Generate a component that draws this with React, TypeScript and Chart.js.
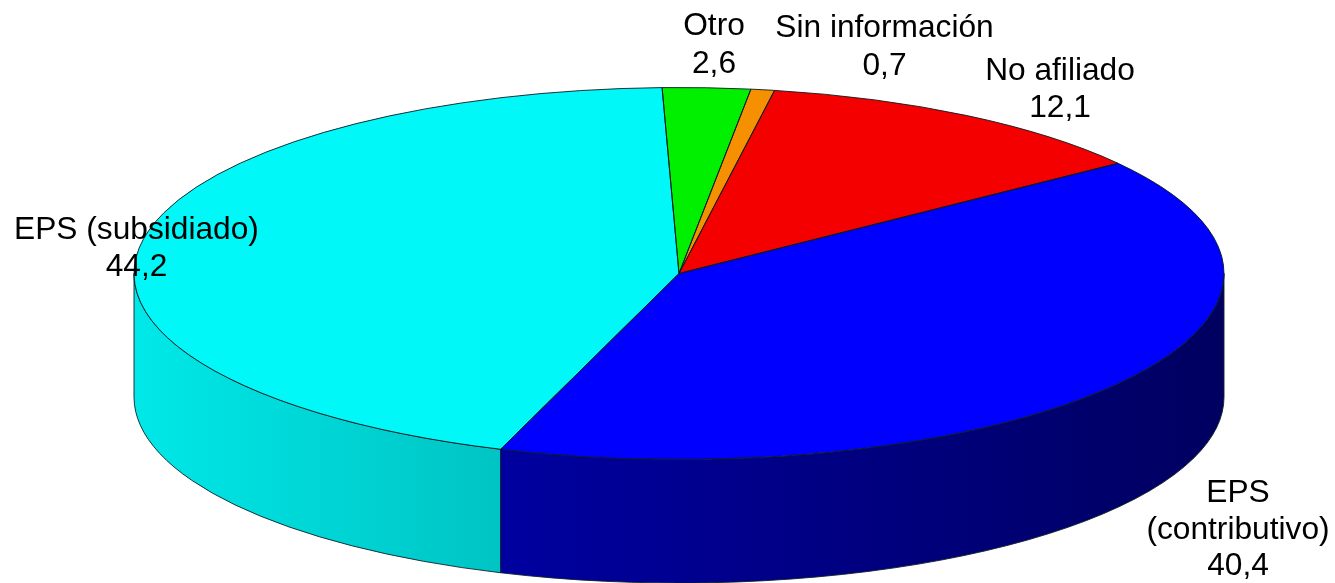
import { useEffect, useRef } from "react";
import { Chart, registerables } from "chart.js";

Chart.register(...registerables);

const categories = ["EPS (subsidiado)", "Otro", "Sin información", "No afiliado", "EPS (contributivo)"];
const values = [44.2, 2.6, 0.7, 12.1, 40.4];
const labelLines = [["EPS (subsidiado)"], ["Otro"], ["Sin información"], ["No afiliado"], ["EPS", "(contributivo)"]];

const topColors = ["#00F8F8", "#00F000", "#F59000", "#F50000", "#0000FF"];
const wallStart = ["#00C4C4", "#00A000", "#A06000", "#A00000", "#000060"];
const wallEnd = ["#00E8E8", "#00A000", "#A06000", "#A00000", "#0000A0"];

const W = 1335;
const H = 583;
const CX = 679;
const CY = 273.5;
const RX = 545;
const RY = 186;
const DEPTH = 123.5;
const ROTATION = 199.1;

// centre x, first baseline, line spacing for each label
const labelAnchors = [
  [136.5, 239, 37],
  [714, 35, 37.5],
  [884.5, 36.5, 38],
  [1060, 80, 37],
  [1238, 502, 36.5],
];

const pie3d = {
  id: "pie3d",
  beforeDatasetsDraw(chart: any) {
    const ctx = chart.ctx;
    const arcs = chart.getDatasetMeta(0).data;
    arcs.forEach((arc: any, i: number) => {
      for (let k = -1; k <= 1; k++) {
        const a = Math.max(arc.startAngle + k * 2 * Math.PI, 0);
        const b = Math.min(arc.endAngle + k * 2 * Math.PI, Math.PI);
        if (b <= a) continue;
        const x0 = CX + RX * Math.cos(b);
        const x1 = CX + RX * Math.cos(a);
        const grad = ctx.createLinearGradient(x0, 0, x1, 0);
        grad.addColorStop(0, wallEnd[i]);
        grad.addColorStop(1, wallStart[i]);
        ctx.beginPath();
        ctx.ellipse(CX, CY, RX, RY, 0, a, b);
        ctx.ellipse(CX, CY + DEPTH, RX, RY, 0, b, a, true);
        ctx.closePath();
        ctx.fillStyle = grad;
        ctx.fill();
        ctx.strokeStyle = "#10202a";
        ctx.lineWidth = 0.9;
        ctx.stroke();
      }
    });
    const r = arcs[0].outerRadius;
    ctx.save();
    ctx.translate(CX, CY);
    ctx.scale(RX / r, RY / r);
    ctx.translate(-arcs[0].x, -arcs[0].y);
  },
  afterDatasetsDraw(chart: any) {
    const ctx = chart.ctx;
    ctx.restore();
    const arcs = chart.getDatasetMeta(0).data;
    arcs.forEach((arc: any) => {
      ctx.beginPath();
      ctx.moveTo(CX, CY);
      ctx.ellipse(CX, CY, RX, RY, 0, arc.startAngle, arc.endAngle);
      ctx.closePath();
      ctx.strokeStyle = "#0a1a20";
      ctx.lineWidth = 0.9;
      ctx.stroke();
    });
    ctx.font = '31.7px "Liberation Sans", Arial, sans-serif';
    ctx.fillStyle = "#000000";
    ctx.textAlign = "center";
    ctx.textBaseline = "alphabetic";
    values.forEach((v, i) => {
      const [x, y, step] = labelAnchors[i];
      const lines = [...labelLines[i], String(v).replace(".", ",")];
      lines.forEach((t, j) => ctx.fillText(t, x, y + j * step));
    });
  },
};

export default function App() {
  const ref = useRef<HTMLCanvasElement>(null);
  useEffect(() => {
    document.body.style.margin = "0";
    document.body.style.background = "#ffffff";
    const chart = new Chart(ref.current as HTMLCanvasElement, {
      type: "pie",
      data: {
        labels: categories,
        datasets: [{ data: values, backgroundColor: topColors, borderWidth: 0, clip: false } as any],
      },
      options: {
        animation: false,
        responsive: false,
        rotation: ROTATION,
        layout: { padding: 0 },
        events: [],
        plugins: { legend: { display: false }, tooltip: { enabled: false } },
      },
      plugins: [pie3d],
    } as any);
    return () => chart.destroy();
  }, []);
  return <canvas ref={ref} width={W} height={H} style={{ display: "block", width: W, height: H }} />;
}
